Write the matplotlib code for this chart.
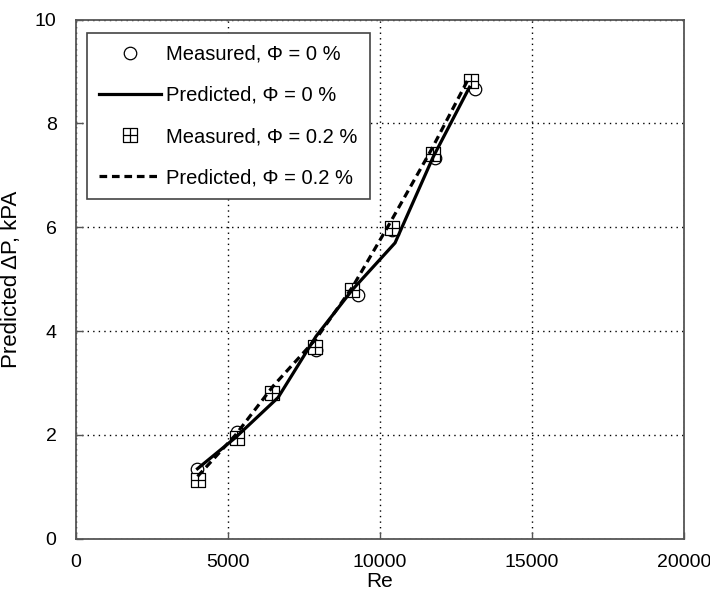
import numpy as np
import matplotlib
matplotlib.use("Agg")
import matplotlib.pyplot as plt
from matplotlib.path import Path

plt.rcParams["font.family"] = ["Liberation Sans", "DejaVu Sans"]

# measured, phi = 0 %
re_meas0 = [3980, 5300, 6450, 7900, 9280, 10400, 11800, 13120]
dp_meas0 = [1.34, 2.06, 2.80, 3.63, 4.69, 5.95, 7.33, 8.67]

# predicted, phi = 0 %
re_pred0 = [4000, 5250, 6650, 7900, 9100, 10500, 11750, 12950]
dp_pred0 = [1.35, 1.95, 2.72, 3.90, 4.80, 5.70, 7.35, 8.70]

# measured, phi = 0.2 %
re_meas2 = [4030, 5290, 6440, 7880, 9080, 10400, 11750, 12990]
dp_meas2 = [1.13, 1.95, 2.81, 3.69, 4.79, 5.98, 7.42, 8.82]

# predicted, phi = 0.2 %
re_pred2 = [4000, 5250, 6500, 7900, 9100, 10300, 11700, 12950]
dp_pred2 = [1.20, 2.00, 2.95, 3.85, 4.85, 6.05, 7.50, 8.90]

# square with a cross inside
verts = [(-1, -1), (1, -1), (1, 1), (-1, 1), (-1, -1),
         (-1, 0), (1, 0), (0, -1), (0, 1)]
codes = [Path.MOVETO, Path.LINETO, Path.LINETO, Path.LINETO, Path.CLOSEPOLY,
         Path.MOVETO, Path.LINETO, Path.MOVETO, Path.LINETO]
grid_square = Path(verts, codes)

fig = plt.figure(figsize=(7.10, 5.96), dpi=100)
ax = fig.add_axes([0.107, 0.096, 0.856, 0.871])

ax.plot(re_meas0, dp_meas0, linestyle="none", marker="o", markersize=9,
        markerfacecolor="white", markeredgecolor="black", markeredgewidth=0.9,
        label="Measured, Φ = 0 %", zorder=3)
ax.plot(re_pred0, dp_pred0, color="black", linewidth=2.3,
        label="Predicted, Φ = 0 %", zorder=5)
ax.plot(re_meas2, dp_meas2, linestyle="none", marker=grid_square, markersize=10,
        markerfacecolor="white", markeredgecolor="black", markeredgewidth=0.9,
        label="Measured, Φ = 0.2 %", zorder=4)
ax.plot(re_pred2, dp_pred2, color="black", linewidth=2.3, linestyle=(0, (2.4, 1.5)),
        label="Predicted, Φ = 0.2 %", zorder=5)

ax.set_xlim(0, 20000)
ax.set_ylim(0, 10)
ax.set_xticks([0, 5000, 10000, 15000, 20000])
ax.set_yticks([0, 2, 4, 6, 8, 10])
ax.grid(True, color="black", linestyle=(0, (1, 3)), linewidth=1.0)
ax.set_axisbelow(True)
ax.tick_params(direction="in", length=5, width=1, colors="#555555",
               labelcolor="black", labelsize=14, pad=14)
ax.tick_params(axis="x", pad=11)
for s in ax.spines.values():
    s.set_color("#555555")
    s.set_linewidth(1.3)

ax.set_xlabel("Re", fontsize=15, labelpad=1)
ax.set_ylabel("Predicted ΔP, kPA", fontsize=16, labelpad=9)

leg = ax.legend(loc="upper left", bbox_to_anchor=(0.018, 0.975), borderaxespad=0,
                fontsize=14.5, handlelength=3.1, handletextpad=0.25, labelspacing=1.1,
                borderpad=0.6, fancybox=False, framealpha=1, edgecolor="#444444")
leg.get_frame().set_linewidth(1.2)

fig.savefig("out.png", dpi=100)
